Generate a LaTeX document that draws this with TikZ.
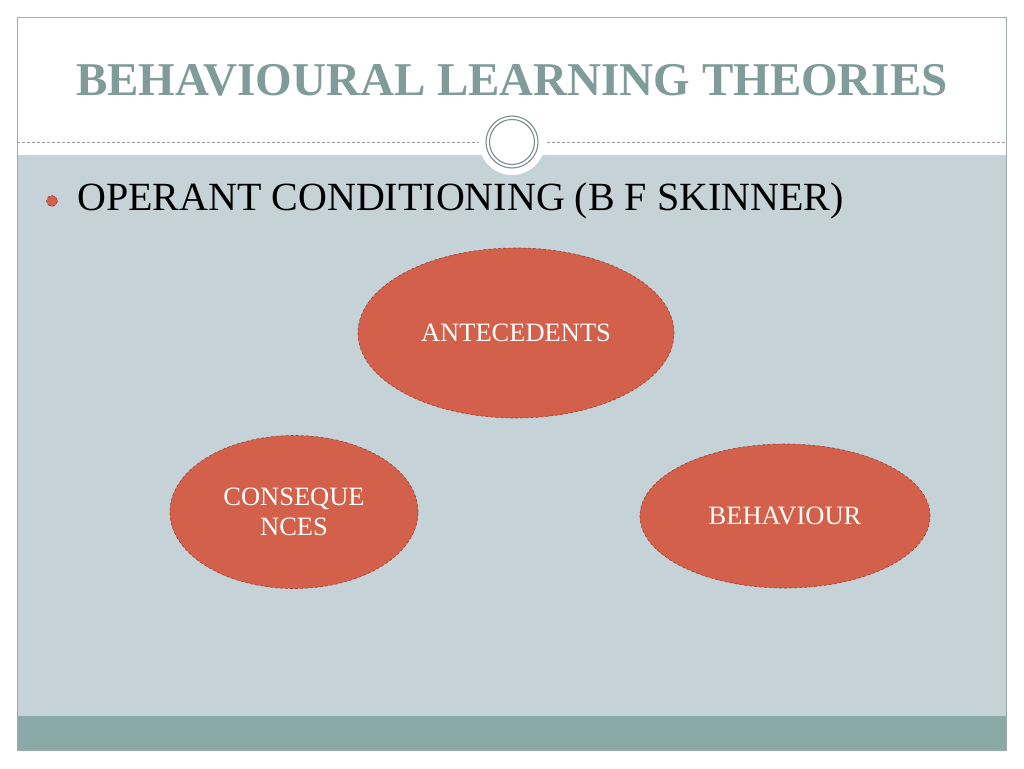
\documentclass[tikz,border=0pt]{standalone}
\usepackage{fontspec}
\setmainfont{Liberation Serif}
\usetikzlibrary{shapes.geometric}
\definecolor{titlec}{HTML}{7F9C98}
\definecolor{bodybg}{HTML}{C5D2D7}
\definecolor{band}{HTML}{8AAAAA}
\definecolor{framec}{HTML}{9AAEAE}
\definecolor{oval}{HTML}{D2604A}
\definecolor{ovalb}{HTML}{A2402E}
\definecolor{ringc}{HTML}{7F8C8C}
\tikzset{
  oval/.style={ellipse, fill=oval, draw=ovalb, densely dashed, line width=0.6pt, text=white, align=center, inner sep=0pt, font=\fontsize{26.5}{30.5}\selectfont},
}
\begin{document}
\begin{tikzpicture}[x=1pt,y=-1pt]
\useasboundingbox (0,0) rectangle (1024,768);
\fill[white] (0,0) rectangle (1024,768);
% body
\fill[bodybg] (17,155) rectangle (1006,716);
\fill[band] (17,716) rectangle (1006,750);
\draw[framec, line width=0.8pt] (17,17) rectangle (1006,750);
% dashed line
\draw[gray!80, densely dashed, line width=0.6pt] (17,142) -- (1006,142);
% circle
\fill[white] (512,142) circle (33);
\draw[ringc, line width=1.1pt] (512,142) circle (26);
\draw[ringc, line width=1.1pt] (512,142) circle (22.5);
% title
\node[text=titlec, font=\fontsize{47}{50}\selectfont\bfseries, inner sep=0pt] (title) at (512,80) {BEHAVIOURAL LEARNING THEORIES};
% bullet
\fill[oval] (52,201) circle (5.5);
\node[anchor=west, font=\fontsize{40}{44}\selectfont, inner sep=0pt] (sub) at (77,201) {OPERANT CONDITIONING (B F SKINNER)};
% ovals
\node[oval, minimum width=316pt, minimum height=170pt] (ante) at (516,333) {ANTECEDENTS};
\node[oval, minimum width=248pt, minimum height=153pt] (cons) at (294,512) {CONSEQUE\\NCES};
\node[oval, minimum width=290pt, minimum height=144pt] (beh) at (785,516) {BEHAVIOUR};
\end{tikzpicture}
\end{document}
